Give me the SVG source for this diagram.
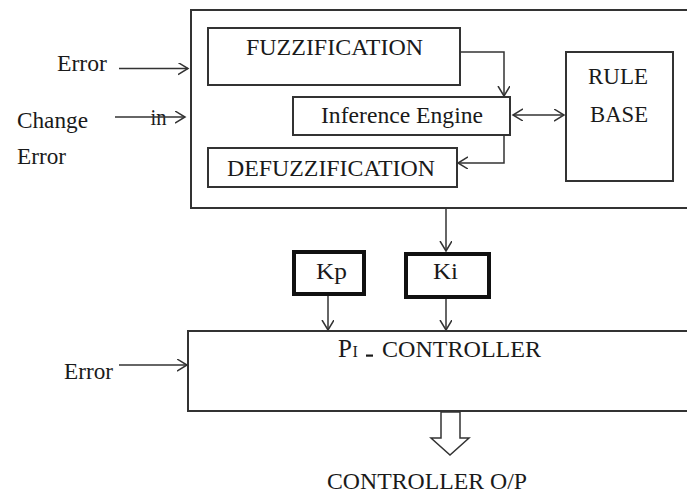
<svg xmlns="http://www.w3.org/2000/svg" width="687" height="493" viewBox="0 0 687 493">
<style>
.t{font-family:"Liberation Serif","Times New Roman",serif;font-size:22.5px;fill:#1a1a1a}
.box{fill:#fff;stroke:#333;stroke-width:2}
.thick{fill:#fff;stroke:#111;stroke-width:4}
.ln{fill:none;stroke:#333;stroke-width:1.5}
</style>
<defs>
<marker id="ah" markerUnits="userSpaceOnUse" markerWidth="14" markerHeight="14" refX="10" refY="6" orient="auto-start-reverse">
<path d="M0,0 L10,6 L0,12" fill="none" stroke="#333" stroke-width="1.5"/>
</marker>
</defs>
<rect width="687" height="493" fill="#fff"/>

<g id="fuzzy-block">
<rect class="box" x="191" y="10" width="520" height="198"/>
</g>
<g id="fuzzification">
<rect class="box" x="208" y="28" width="252" height="57"/>
<text class="t" x="246" y="55" textLength="177" lengthAdjust="spacingAndGlyphs">FUZZIFICATION</text>
</g>
<g id="inference">
<rect class="box" x="293" y="97" width="217" height="38"/>
<text class="t" x="321" y="122.5" textLength="162" lengthAdjust="spacingAndGlyphs">Inference Engine</text>
</g>
<g id="defuzzification">
<rect class="box" x="208" y="148" width="249" height="39"/>
<text class="t" x="227" y="176" textLength="208" lengthAdjust="spacingAndGlyphs">DEFUZZIFICATION</text>
</g>
<g id="rulebase">
<rect class="box" x="566" y="52" width="107" height="129"/>
<text class="t" x="588" y="83.5" textLength="60" lengthAdjust="spacingAndGlyphs">RULE</text>
<text class="t" x="590" y="122" textLength="58" lengthAdjust="spacingAndGlyphs">BASE</text>
</g>
<g id="kp">
<rect class="thick" x="294" y="252" width="70" height="42"/>
<text class="t" x="316" y="279" textLength="31" lengthAdjust="spacingAndGlyphs">Kp</text>
</g>
<g id="ki">
<rect class="thick" x="406" y="254" width="83" height="43"/>
<text class="t" x="433" y="279" textLength="25" lengthAdjust="spacingAndGlyphs">Ki</text>
</g>
<g id="pi-controller">
<rect class="box" x="188" y="331" width="520" height="80"/>
<text class="t" x="338" y="357"><tspan font-size="25">P</tspan><tspan font-size="16" dx="0.5">I</tspan></text>
<rect x="366" y="354.5" width="7" height="2.2" fill="#1a1a1a"/>
<text class="t" x="382" y="357" font-size="20.5" textLength="159" lengthAdjust="spacingAndGlyphs">CONTROLLER</text>
</g>
<g id="labels">
<text class="t" x="57" y="71" textLength="50" lengthAdjust="spacingAndGlyphs">Error</text>
<text class="t" x="17" y="127.5" textLength="71" lengthAdjust="spacingAndGlyphs">Change</text>
<text class="t" x="150.5" y="124.5" textLength="16" lengthAdjust="spacingAndGlyphs">in</text>
<text class="t" x="17" y="163.5" textLength="49" lengthAdjust="spacingAndGlyphs">Error</text>
<text class="t" x="64" y="379" textLength="49" lengthAdjust="spacingAndGlyphs">Error</text>
<text class="t" x="327" y="489" textLength="200" lengthAdjust="spacingAndGlyphs">CONTROLLER O/P</text>
</g>
<g id="connectors">
<path class="ln" d="M119,68.5 H188" marker-end="url(#ah)"/>
<path class="ln" d="M115,117 H185" marker-end="url(#ah)"/>
<path class="ln" d="M460,52 H504 V96" marker-end="url(#ah)"/>
<path class="ln" d="M504,135 V163 H458" marker-end="url(#ah)"/>
<path class="ln" d="M513,115 H564" marker-start="url(#ah)" marker-end="url(#ah)"/>
<path class="ln" d="M446,208 V251" marker-end="url(#ah)"/>
<path class="ln" d="M328,296 V330" marker-end="url(#ah)"/>
<path class="ln" d="M446,299 V330" marker-end="url(#ah)"/>
<path class="ln" d="M119,365 H187" marker-end="url(#ah)"/>
<polygon points="441,412 441,438 431,438 450,455 469,438 460,438 460,412" fill="#fff" stroke="#333" stroke-width="1.5"/>
</g>
</svg>
